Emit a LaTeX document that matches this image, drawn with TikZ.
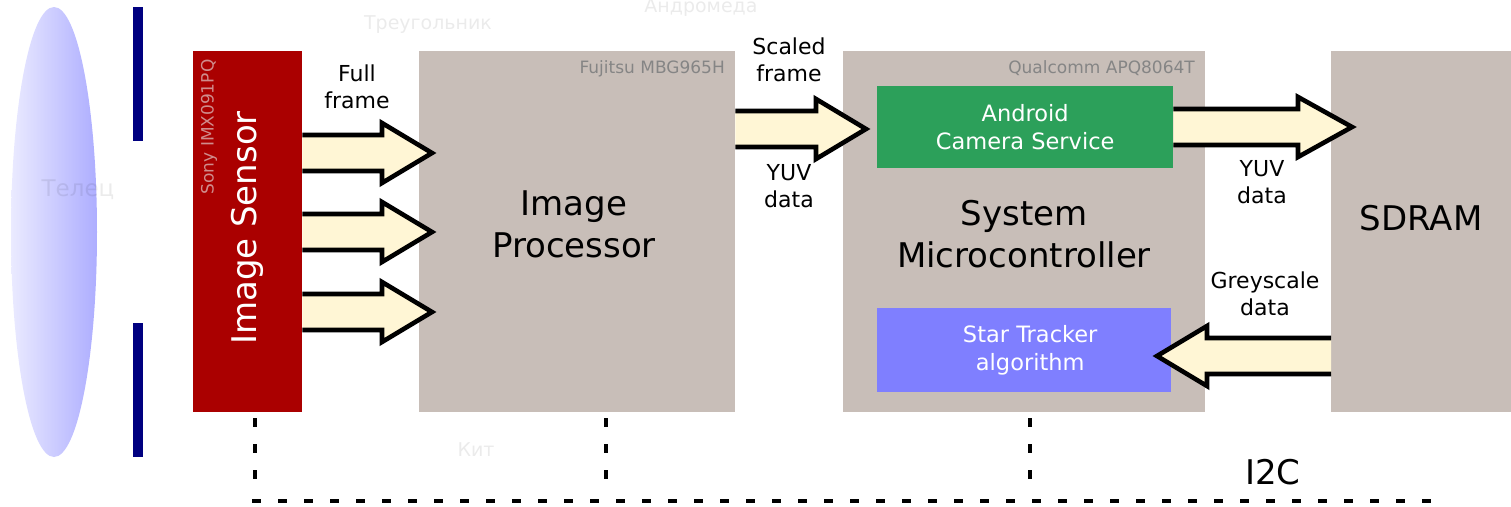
\documentclass[tikz,border=0pt]{standalone}
\usepackage{fontspec}
\setmainfont{DejaVu Sans}
\usepackage{tikz}
\usetikzlibrary{calc,positioning}

\definecolor{chipgray}{HTML}{C8BEB8}
\definecolor{sensorred}{HTML}{AA0000}
\definecolor{arrowfill}{HTML}{FFF6D5}
\definecolor{androidgreen}{HTML}{2CA05A}
\definecolor{trackerblue}{HTML}{7F7FFF}
\definecolor{partgray}{HTML}{858585}
\definecolor{sonypink}{HTML}{D08C8C}
\definecolor{stopblue}{HTML}{000080}

% fat outlined arrow: from, tip, signed head length
\newcommand{\fatarrow}[3]{%
  \path[fatarr] ($(#1)+(0,-18)$) -- ($(#2)-(#3,18)$) -- ($(#2)-(#3,30)$) -- (#2)
    -- ($(#2)-(#3,-30)$) -- ($(#2)-(#3,-18)$) -- ($(#1)+(0,18)$);}

\begin{document}
\begin{tikzpicture}[
  x=1pt, y=-1pt,
  chip/.style={fill=chipgray, anchor=north west, inner sep=0pt, minimum height=361pt},
  sensorbox/.style={fill=sensorred, anchor=north west, inner sep=0pt, minimum width=109pt, minimum height=361pt},
  subbox/.style={anchor=north west, inner sep=0pt, align=center, text=white, font=\fontsize{22.5}{28}\selectfont},
  bigtext/.style={inner sep=0pt, align=center, font=\fontsize{34}{42}\selectfont},
  lbl/.style={inner sep=0pt, align=center, font=\fontsize{22}{27}\selectfont},
  partno/.style={inner sep=0pt, text=partgray, font=\fontsize{17}{20}\selectfont},
  faint/.style={inner sep=0pt, text=black, opacity=0.08, font=\fontsize{19}{24}\selectfont},
  fatarr/.style={fill=arrowfill, draw=black, line width=4.6pt},
  bus/.style={line width=3.5pt, dash pattern=on 9pt off 17pt}
]
\useasboundingbox (0,0) rectangle (1511,506);

% optics
\shade[left color=blue!8, right color=blue!32] (54,232) ellipse [x radius=43, y radius=225];
\fill[stopblue] (133,7) rectangle (143,141);
\fill[stopblue] (133,323) rectangle (143,457);

% faint star map
\node[faint] (tri) at (428,25) {Треугольник};
\node[faint] (andr) at (701,8) {Андромеда};
\node[faint, font=\fontsize{23}{26}\selectfont] (tau) at (78,190) {Телец};
\node[faint] (cet) at (476,450) {Кит};

% blocks
\node[sensorbox] (sensor) at (193,51) {};
\node[chip, minimum width=316pt] (proc) at (419,51) {};
\node[chip, minimum width=362pt] (mcu) at (843,51) {};
\node[chip, minimum width=180pt] (sdram) at (1331,51) {};
\node[subbox, fill=androidgreen, minimum width=296pt, minimum height=82pt] (camsvc) at (877,86) {Android\\Camera Service};
\node[subbox, fill=trackerblue, minimum width=294pt, minimum height=84pt] (tracker) at (877,308) {\hspace*{12pt}Star Tracker\\\hspace*{12pt}algorithm};

% block texts
\node[bigtext, rotate=90, text=white] (sensorlbl) at (247,228) {Image Sensor};
\node[partno, rotate=90, text=sonypink] (sensorpart) at (209,127) {Sony IMX091PQ};
\node[bigtext] (proclbl) at (574,224) {Image\\Processor};
\node[partno, anchor=east] (procpart) at (725,69) {Fujitsu MBG965H};
\node[bigtext] (mculbl) at (1024,234) {System\\Microcontroller};
\node[partno, anchor=east] (mcupart) at (1195,68) {Qualcomm APQ8064T};
\node[bigtext] (sdramlbl) at (1421,218) {SDRAM};

% data paths
\coordinate (t1) at (432,153);
\coordinate (t2) at (432,232);
\coordinate (t3) at (432,312);
\coordinate (t4) at (866,129);
\coordinate (t5) at (1352,127);
\coordinate (t6) at (1157,356);
\fatarrow{sensor.east |- t1}{t1}{50}
\fatarrow{sensor.east |- t2}{t2}{50}
\fatarrow{sensor.east |- t3}{t3}{50}
\fatarrow{proc.east |- t4}{t4}{50}
\fatarrow{camsvc.east |- t5}{t5}{54}
\fatarrow{sdram.west |- t6}{t6}{-50}

\node[lbl] (fulllbl) at (357,87) {Full\\frame};
\node[lbl] (scaledlbl) at (789,60) {Scaled\\frame};
\node[lbl] (yuvlbl) at (789,186) {YUV\\data};
\node[lbl] (yuvlbl2) at (1262,182) {YUV\\data};
\node[lbl] (greylbl) at (1265,294) {Greyscale\\data};

% I2C bus
\coordinate (busL) at (252,501);
\coordinate (busR) at (1445,501);
\coordinate (tapS) at (255,418);
\coordinate (tapP) at (606,418);
\coordinate (tapM) at (1030,418);
\draw[bus] (busL) -- (busR);
\foreach \t in {tapS,tapP,tapM}
  \draw[bus] (\t) -- ($(\t)+(0,72)$);
\node[bigtext] (i2c) at (1273,472) {I2C};
\end{tikzpicture}
\end{document}
